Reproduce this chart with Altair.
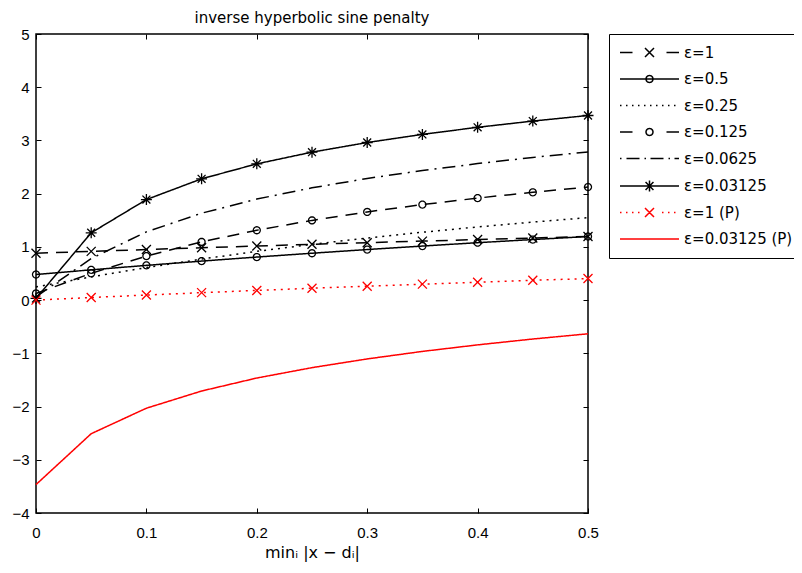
import altair as alt
import pandas as pd
import math

# ---------------- data ----------------
x_vals = [0.0, 0.05, 0.1, 0.15, 0.2, 0.25, 0.3, 0.35, 0.4, 0.45, 0.5]
series_names = ["ε=1", "ε=0.5", "ε=0.25", "ε=0.125", "ε=0.0625",
                "ε=0.03125", "ε=1 (P)", "ε=0.03125 (P)"]
eps_1 = [0.881, 0.916, 0.950, 0.984, 1.016, 1.048, 1.079, 1.109, 1.138, 1.167, 1.195]
eps_05 = [0.481, 0.569, 0.653, 0.733, 0.809, 0.881, 0.950, 1.016, 1.079, 1.138, 1.195]
eps_025 = [0.248, 0.436, 0.611, 0.771, 0.916, 1.048, 1.167, 1.275, 1.375, 1.466, 1.550]
eps_0125 = [0.125, 0.504, 0.827, 1.094, 1.313, 1.498, 1.657, 1.795, 1.917, 2.026, 2.125]
eps_00625 = [0.062, 0.781, 1.282, 1.633, 1.898, 2.110, 2.285, 2.435, 2.565, 2.681, 2.784]
eps_003125 = [0.031, 1.265, 1.889, 2.279, 2.560, 2.780, 2.961, 3.114, 3.247, 3.364, 3.469]
p_eps_1 = [0.000, 0.049, 0.095, 0.140, 0.182, 0.223, 0.262, 0.300, 0.336, 0.372, 0.405]
p_eps_003125 = [-3.466, -2.510, -2.031, -1.708, -1.464, -1.269, -1.105, -0.964, -0.841, -0.731, -0.633]
series_values = [eps_1, eps_05, eps_025, eps_0125, eps_00625, eps_003125, p_eps_1, p_eps_003125]

x_ticks = [0, 0.1, 0.2, 0.3, 0.4, 0.5]
y_ticks = [-4, -3, -2, -1, 0, 1, 2, 3, 4, 5]
title_text = "inverse hyperbolic sine penalty"
x_title = "minᵢ |x  − dᵢ|"

marker_series = ["ε=1", "ε=0.5", "ε=0.125", "ε=0.03125", "ε=1 (P)"]

rows = []
for name, vals in zip(series_names, series_values):
    for xv, yv in zip(x_vals, vals):
        rows.append({"x": xv, "y": yv, "series": name})
df = pd.DataFrame(rows)

# ---------------- styles ----------------
colors = ["black"] * 6 + ["red"] * 2
dashes = [[12, 8], [1, 0], [2, 5], [12, 8], [13, 6, 2, 6], [1, 0], [2, 5], [1, 0]]

U = 5.0  # px per symbol-path unit at size 100


def seg(a, b):
    return f"M{a / U:.3f},0H{b / U:.3f}"


def dotline(start, end, step, skip=0.0):
    out = ""
    p = start
    while p <= end:
        if abs(p + 0.75) > skip:
            out += seg(p, p + 1.5)
        p += step
    return out


def circ(r_px):
    r = r_px / U
    pts = []
    for k in range(24):
        a = 2 * math.pi * k / 24
        pts.append(f"{r * math.cos(a):.3f},{r * math.sin(a):.3f}")
    return "M" + "L".join(pts) + "Z"


def xmark(h_px):
    h = h_px / U
    return f"M{-h:.3f},{-h:.3f}L{h:.3f},{h:.3f}M{-h:.3f},{h:.3f}L{h:.3f},{-h:.3f}"


def star(h_px):
    h = h_px / U
    d = h * 0.72
    return (f"M{-h:.3f},0H{h:.3f}M0,{-h:.3f}V{h:.3f}"
            f"M{-d:.3f},{-d:.3f}L{d:.3f},{d:.3f}M{-d:.3f},{d:.3f}L{d:.3f},{-d:.3f}")


X_M = xmark(4.5)
O_M = circ(3.5)
S_M = star(5.5)
marker_paths = [X_M, O_M, O_M, S_M, X_M]

legend_paths = [
    seg(-29.5, -17) + seg(17, 29.5) + X_M,
    seg(-29.5, 29.5) + O_M,
    dotline(-29.5, 29.5, 6),
    seg(-29.5, -17) + seg(17, 29.5) + O_M,
    seg(-29.5, -28) + seg(-23, -10) + seg(-5, -3.5) + seg(1, 14) + seg(19, 20.5) + seg(25, 29.5),
    seg(-29.5, 29.5) + S_M,
    dotline(-29.5, 29.5, 6, skip=8) + X_M,
    seg(-29.5, 29.5),
]

x_scale = alt.Scale(domain=[0, 0.5], nice=False, zero=False)
y_scale = alt.Scale(domain=[-4, 5], nice=False, zero=False)
color_scale = alt.Scale(domain=series_names, range=colors)

W, H = 552, 479

lines = alt.Chart(df).mark_line(strokeWidth=1.5).encode(
    x=alt.X("x:Q", scale=x_scale,
            axis=alt.Axis(orient="bottom", values=x_ticks, ticks=False, tickSize=0,
                          domain=False, grid=False, labelFlush=False, labelPadding=12,
                          format="~g", title=x_title, titlePadding=4)),
    y=alt.Y("y:Q", scale=y_scale,
            axis=alt.Axis(orient="left", values=y_ticks, ticks=False, tickSize=0,
                          domain=False, grid=False, labelPadding=7, format="~g", title=None)),
    color=alt.Color("series:N", scale=color_scale, legend=None),
    strokeDash=alt.StrokeDash("series:N", scale=alt.Scale(domain=series_names, range=dashes),
                              legend=None),
)

points = alt.Chart(df).transform_filter(
    alt.FieldOneOfPredicate(field="series", oneOf=marker_series)
).mark_point(filled=False, opacity=1, strokeWidth=1.3, size=100).encode(
    x=alt.X("x:Q", scale=x_scale,
            axis=alt.Axis(orient="top", offset=-H, values=x_ticks, ticks=True, tickSize=5,
                          labels=False, domain=False, grid=False, title=None)),
    y=alt.Y("y:Q", scale=y_scale,
            axis=alt.Axis(orient="right", offset=-W, values=y_ticks, ticks=True, tickSize=5,
                          labels=False, domain=False, grid=False, title=None)),
    color=alt.Color("series:N", scale=color_scale, legend=None),
    shape=alt.Shape("series:N", scale=alt.Scale(domain=marker_series, range=marker_paths),
                    legend=None),
)

leg = alt.Legend(title=None, orient="right", offset=18, padding=11, strokeColor="black",
                 fillColor="white", symbolSize=100, symbolStrokeWidth=1.5,
                 symbolOffset=22, labelOffset=27, rowPadding=10.5,
                 labelFont="DejaVu Sans", labelFontSize=15, labelColor="black",
                 cornerRadius=0, labelLimit=300)

legend_layer = alt.Chart(df).transform_filter("false").mark_point(
    filled=False, opacity=1, strokeWidth=1.5, size=100
).encode(
    x=alt.X("x:Q", scale=x_scale,
            axis=alt.Axis(orient="bottom", offset=-H, values=x_ticks, ticks=True, tickSize=5,
                          labels=False, domain=False, grid=False, title=None)),
    y=alt.Y("y:Q", scale=y_scale,
            axis=alt.Axis(orient="left", offset=-W, values=y_ticks, ticks=True, tickSize=5,
                          labels=False, domain=False, grid=False, title=None)),
    color=alt.Color("series:N", scale=color_scale, legend=leg),
    shape=alt.Shape("series:N", scale=alt.Scale(domain=series_names, range=legend_paths),
                    legend=leg),
)

chart = alt.layer(lines, points, legend_layer).resolve_scale(
    color="independent", shape="independent", strokeDash="independent"
).resolve_axis(
    x="independent", y="independent"
).properties(
    width=W, height=H,
    title=alt.Title(title_text, anchor="middle", frame="group", font="DejaVu Sans",
                    fontSize=15, fontWeight="normal", color="black", offset=1),
    autosize=alt.AutoSizeParams(type="none"),
    padding={"left": 28, "top": 26, "right": 206, "bottom": 50},
    background="white",
).configure_view(
    stroke="black", strokeWidth=1.5
).configure_axis(
    labelFont="Liberation Sans", labelFontSize=15, labelColor="black",
    tickColor="black", tickWidth=1,
    titleFont="DejaVu Sans", titleFontSize=16, titleColor="black", titleFontWeight="normal",
)

chart.save("out.html", embed_options={"renderer": "svg", "actions": False})
